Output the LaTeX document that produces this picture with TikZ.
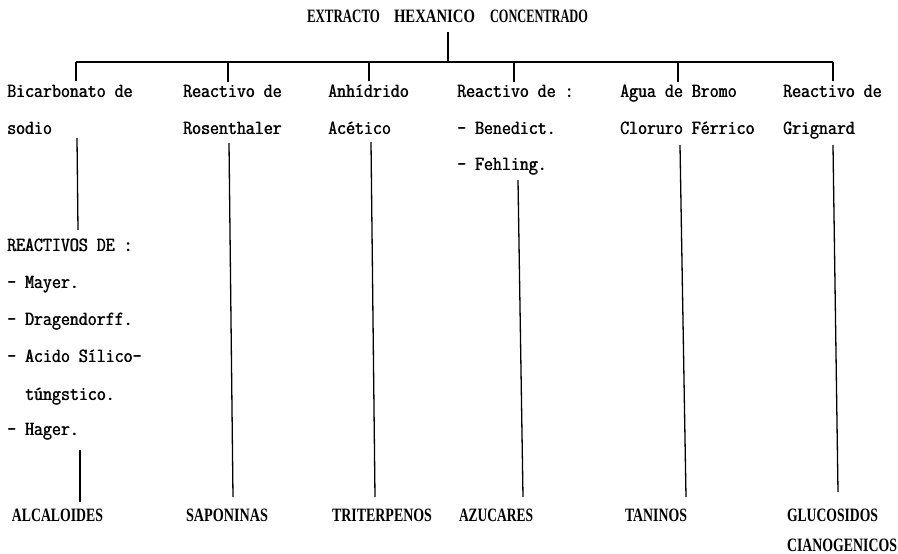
\documentclass[tikz,border=0pt]{standalone}
\usepackage{fontspec}
\usepackage{graphicx}
\newfontfamily\labfont{Liberation Serif}
\newcommand\pmbold[1]{\rlap{#1}\hspace{0.6pt}#1}
\newcommand\twtext[1]{\scalebox{1}[1.15]{\ttfamily\fontsize{17.4}{20}\selectfont\pmbold{#1}}}
\newcommand\capbox[2]{\resizebox{#1pt}{12.5pt}{\labfont\bfseries #2}}
\begin{document}
\begin{tikzpicture}[x=1pt,y=-1pt,
  tw/.style={anchor=base west,inner sep=0pt,outer sep=0pt},
  lab/.style={anchor=base west,inner sep=0pt,outer sep=0pt},
  conn/.style={line width=1.3pt,black}]
\useasboundingbox (0,0) rectangle (898,554);
\fill[white] (0,0) rectangle (898,554);

% title
\node[lab] (t) at (307,22) {\capbox{73}{EXTRACTO}\hspace{14pt}\capbox{81}{HEXANICO}\hspace{15pt}\capbox{98}{CONCENTRADO}};

% row 1
\node[tw] (h1a) at (7,97)   {\twtext{Bicarbonato de}};
\node[tw] (h2a) at (183,97) {\twtext{Reactivo de}};
\node[tw] (h3a) at (328,97) {\twtext{Anhídrido}};
\node[tw] (h4a) at (457,97) {\twtext{Reactivo de :}};
\node[tw] (h5a) at (620,97) {\twtext{Agua de Bromo}};
\node[tw] (h6a) at (783,97) {\twtext{Reactivo de}};
% row 2
\node[tw] (h1b) at (7,134)   {\twtext{sodio}};
\node[tw] (h2b) at (183,134) {\twtext{Rosenthaler}};
\node[tw] (h3b) at (328,134) {\twtext{Acético}};
\node[tw] (h4b) at (457,134) {\twtext{- Benedict.}};
\node[tw] (h5b) at (620,134) {\twtext{Cloruro Férrico}};
\node[tw] (h6b) at (783,134) {\twtext{Grignard}};
% row 3
\node[tw] (h4c) at (457,170) {\twtext{- Fehling.}};

% left block
\node[tw] (r0) at (7,251)  {\twtext{REACTIVOS DE :}};
\node[tw] (r1) at (7,288)  {\twtext{- Mayer.}};
\node[tw] (r2) at (7,325)  {\twtext{- Dragendorff.}};
\node[tw] (r3) at (7,362)  {\twtext{- Acido Sílico-}};
\node[tw] (r4) at (25,400) {\twtext{túngstico.}};
\node[tw] (r5) at (7,435)  {\twtext{- Hager.}};

% bottom labels
\node[lab] (e1) at (12,521)  {\capbox{91}{ALCALOIDES}};
\node[lab] (e2) at (186,521) {\capbox{82}{SAPONINAS}};
\node[lab] (e3) at (332,521) {\capbox{100}{TRITERPENOS}};
\node[lab] (e4) at (459,521) {\capbox{74}{AZUCARES}};
\node[lab] (e5) at (625,521) {\capbox{62}{TANINOS}};
\node[lab] (e6) at (787,521) {\capbox{91}{GLUCOSIDOS}};
\node[lab] (e6b) at (787,551) {\capbox{110}{CIANOGENICOS}};

% tree lines
\coordinate (t0) at (448,32);
\coordinate (j0) at (448,62);
\coordinate (b1) at (76,62);
\coordinate (b2) at (228,62);
\coordinate (b3) at (369,62);
\coordinate (b4) at (514,62);
\coordinate (b5) at (678,62);
\coordinate (b6) at (833,62);
\coordinate (d1) at (76,81);
\coordinate (d2) at (228,82);
\coordinate (d3) at (369,81);
\coordinate (d4) at (514,82);
\coordinate (d5) at (678,82);
\coordinate (d6) at (833,81);

\draw[conn] (t0) -- (j0);
\draw[conn] (b1) -- (b6);
\foreach \i in {1,...,6} {\draw[conn] (b\i) -- (d\i);}

% column lines
\coordinate (c1t) at (77,138);  \coordinate (c1m) at (78,230);
\coordinate (c1u) at (80,450);  \coordinate (c1b) at (80,502);
\coordinate (c2t) at (229,143); \coordinate (c2b) at (233,497);
\coordinate (c3t) at (371,142); \coordinate (c3b) at (375,497);
\coordinate (c4t) at (518,180); \coordinate (c4b) at (523,497);
\coordinate (c5t) at (680,145); \coordinate (c5b) at (686,497);
\coordinate (c6t) at (833,145); \coordinate (c6b) at (838,492);

\draw[conn] (c1t) -- (c1m);
\draw[conn] (c1u) -- (c1b);
\draw[conn] (c2t) -- (c2b);
\draw[conn] (c3t) -- (c3b);
\draw[conn] (c4t) -- (c4b);
\draw[conn] (c5t) -- (c5b);
\draw[conn] (c6t) -- (c6b);
\end{tikzpicture}
\end{document}
